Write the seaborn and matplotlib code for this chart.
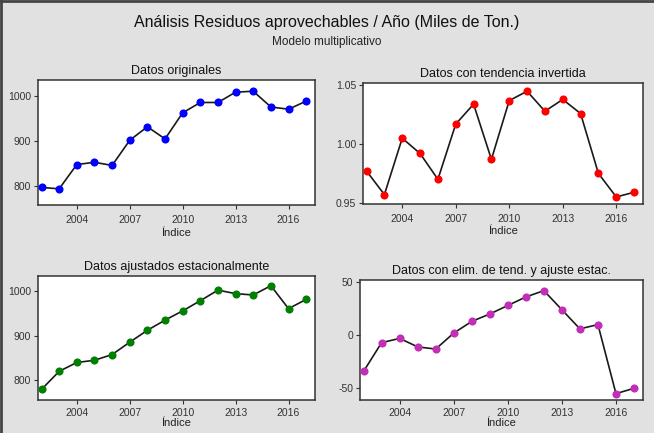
import pandas as pd
import matplotlib.pyplot as plt
import seaborn as sns
from matplotlib.lines import Line2D

# Años e series (Miles de Ton.)
anios = list(range(2002, 2018))
originales = [796, 793, 847, 852, 845, 901, 931, 904, 962, 985, 985, 1008, 1010, 975, 970, 988]
tend_invertida = [0.977, 0.957, 1.005, 0.992, 0.970, 1.017, 1.034, 0.987,
                  1.037, 1.045, 1.028, 1.038, 1.026, 0.975, 0.955, 0.959]
ajustados = [778, 819, 839, 844, 857, 885, 912, 935, 956, 979, 1003, 995, 992, 1013, 961, 982]
elim_ajuste = [-34, -7, -3, -11, -13, 2, 13, 20, 28, 36, 42, 24, 6, 10, -55, -50]

titulos = ['Datos originales', 'Datos con tendencia invertida',
           'Datos ajustados estacionalmente', 'Datos con elim. de tend. y ajuste estac.']
series = [originales, tend_invertida, ajustados, elim_ajuste]
colores = ['#0000ff', '#ff0000', '#008000', '#c02fb5']
yticks = [[800, 900, 1000], [0.95, 1.00, 1.05], [800, 900, 1000], [-50, 0, 50]]
yfmt = ['{:.0f}', '{:.2f}', '{:.0f}', '{:.0f}']
xticks = [2004, 2007, 2010, 2013, 2016]

sns.set_style('white')
plt.rcParams['font.family'] = ['Liberation Sans', 'DejaVu Sans']

bg = '#e1e1e1'
fig = plt.figure(figsize=(6.54, 4.33), dpi=100, facecolor=bg)
W, H = 654, 433
# posiciones de los paneles en pixeles (x0, y0 arriba, x1, y1 abajo)
cajas = [(38, 80, 315, 205), (363, 83, 643, 204), (38, 276, 315, 400), (360, 280, 643, 400)]

for i in range(4):
    x0, y0, x1, y1 = cajas[i]
    ax = fig.add_axes([x0 / W, 1 - y1 / H, (x1 - x0) / W, (y1 - y0) / H])
    df = pd.DataFrame({'anio': anios, 'valor': series[i]})
    sns.lineplot(data=df, x='anio', y='valor', ax=ax, color='#1a1a1a', lw=1.2)
    sns.scatterplot(data=df, x='anio', y='valor', ax=ax, color=colores[i], s=34,
                    edgecolor=colores[i], linewidth=0, zorder=3)
    ax.set_facecolor('white')
    ax.set_xlim(2001.8, 2017.5)
    ax.set_xticks(xticks)
    ax.set_yticks(yticks[i])
    ax.set_yticklabels([yfmt[i].format(v) for v in yticks[i]])
    ax.tick_params(axis='both', labelsize=7.5, colors='#333333', length=3, width=0.8,
                   direction='out', bottom=True, left=True)
    ax.tick_params(axis='x', pad=4 if i < 2 else 3)
    ax.tick_params(axis='y', pad=2)
    for s in ax.spines.values():
        s.set_color('#333333')
        s.set_linewidth(1.1)
    ax.set_title(titulos[i], fontsize=9, color='#111111', pad=4)
    ax.set_xlabel('Índice', fontsize=8, color='#222222', labelpad=2 if i < 2 else 0)
    ax.set_ylabel('')

fig.axes[0].set_ylim(757, 1035)
fig.axes[1].set_ylim(0.949, 1.052)
fig.axes[2].set_ylim(754, 1035)
fig.axes[3].set_ylim(-61, 52)

fig.text(0.5, 1 - 22 / H, 'Análisis Residuos aprovechables / Año (Miles de Ton.)',
         ha='center', va='center', fontsize=11.5, color='#111111', weight='medium')
fig.text(0.5, 1 - 42 / H, 'Modelo multiplicativo', ha='center', va='center',
         fontsize=8.5, color='#222222')

# marco oscuro arriba e izquierda
fig.add_artist(Line2D([0, 1], [0.998, 0.998], transform=fig.transFigure, color='#444444', lw=2))
fig.add_artist(Line2D([0.002, 0.002], [0, 1], transform=fig.transFigure, color='#444444', lw=2))

fig.savefig('out.png', dpi=100, facecolor=bg)
